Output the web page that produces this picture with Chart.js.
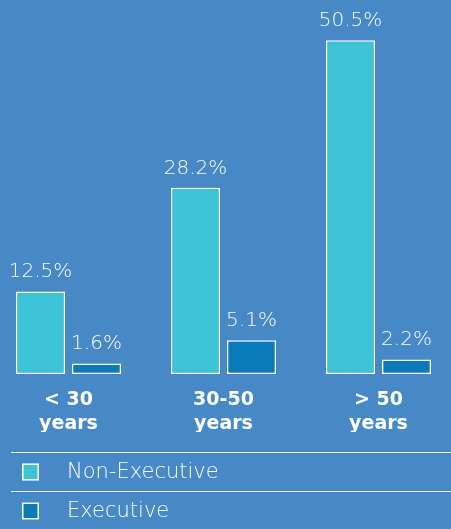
<!DOCTYPE html>
<html>
<head>
<meta charset="utf-8">
<script src="https://cdn.jsdelivr.net/npm/chart.js@4/dist/chart.umd.min.js"></script>
<style>
  html, body { margin: 0; padding: 0; overflow: hidden; background: #4689c6; }
  #wrap { position: relative; width: 451px; height: 529px; overflow: hidden; }
  #chart { position: absolute; left: -9px; top: 0; }
</style>
</head>
<body>
<div id="wrap"><canvas id="chart" width="465" height="529"></canvas></div>
<script>
// chart values
const categories = [['< 30', 'years'], ['30-50', 'years'], ['> 50', 'years']];
const nonExecutive = [12.5, 28.2, 50.5];
const executive = [1.6, 5.1, 2.2];
const seriesNames = ['Non-Executive', 'Executive'];
const seriesColors = ['#3dc3d6', '#0b7ab8'];

const SHIFT = 9; // canvas sits 9px left of the page edge

// value labels above the bars
const valueLabels = {
    id: 'valueLabels',
    afterDatasetsDraw(chart) {
        const ctx = chart.ctx;
        ctx.save();
        ctx.fillStyle = '#ffffff';
        ctx.font = '200 20px "DejaVu Sans"';
        ctx.textAlign = 'center';
        ctx.textBaseline = 'alphabetic';
        chart.data.datasets.forEach((ds, i) => {
            chart.getDatasetMeta(i).data.forEach((bar, j) => {
                ctx.fillText(ds.data[j] + '%', bar.x, bar.y - 14);
            });
        });
        ctx.restore();
    }
};

// legend rows with separator lines
const rowLegend = {
    id: 'rowLegend',
    afterDraw(chart) {
        const ctx = chart.ctx;
        ctx.save();
        ctx.strokeStyle = '#f0f5fa';
        ctx.lineWidth = 1;
        [452.5, 491.5].forEach(y => {
            ctx.beginPath();
            ctx.moveTo(11 + SHIFT, y);
            ctx.lineTo(451 + SHIFT, y);
            ctx.stroke();
        });
        ctx.font = '200 21px "DejaVu Sans"';
        ctx.textBaseline = 'middle';
        seriesNames.forEach((name, i) => {
            const y = 472 + i * 39;
            ctx.fillStyle = seriesColors[i];
            ctx.fillRect(22 + SHIFT, y - 8.5, 17, 17);
            ctx.strokeStyle = '#ffffff';
            ctx.lineWidth = 1.5;
            ctx.strokeRect(22.75 + SHIFT, y - 7.75, 15.5, 15.5);
            ctx.fillStyle = '#ffffff';
            ctx.fillText(name, 67 + SHIFT, y + 1);
        });
        ctx.restore();
    }
};

new Chart(document.getElementById('chart'), {
    type: 'bar',
    data: {
        labels: categories,
        datasets: [
            { label: seriesNames[0], data: nonExecutive, backgroundColor: seriesColors[0] },
            { label: seriesNames[1], data: executive, backgroundColor: seriesColors[1] }
        ]
    },
    options: {
        responsive: false,
        animation: false,
        devicePixelRatio: 1,
        layout: { padding: { top: 4, bottom: 97, left: 0, right: 0 } },
        datasets: {
            bar: {
                categoryPercentage: 0.7226,
                barPercentage: 0.875,
                borderColor: '#ffffff',
                borderWidth: 1.5,
                borderSkipped: false
            }
        },
        scales: {
            x: {
                grid: { display: false, drawTicks: false },
                border: { display: false },
                ticks: {
                    color: '#ffffff',
                    padding: 14,
                    font: { family: '"DejaVu Sans"', size: 19, weight: 'bold', lineHeight: 1.25 }
                },
                afterFit(axis) { axis.height = 58; }
            },
            y: { display: false, min: 0, max: 56 }
        },
        plugins: {
            legend: { display: false },
            tooltip: { enabled: false }
        }
    },
    plugins: [valueLabels, rowLegend]
});
</script>
</body>
</html>
